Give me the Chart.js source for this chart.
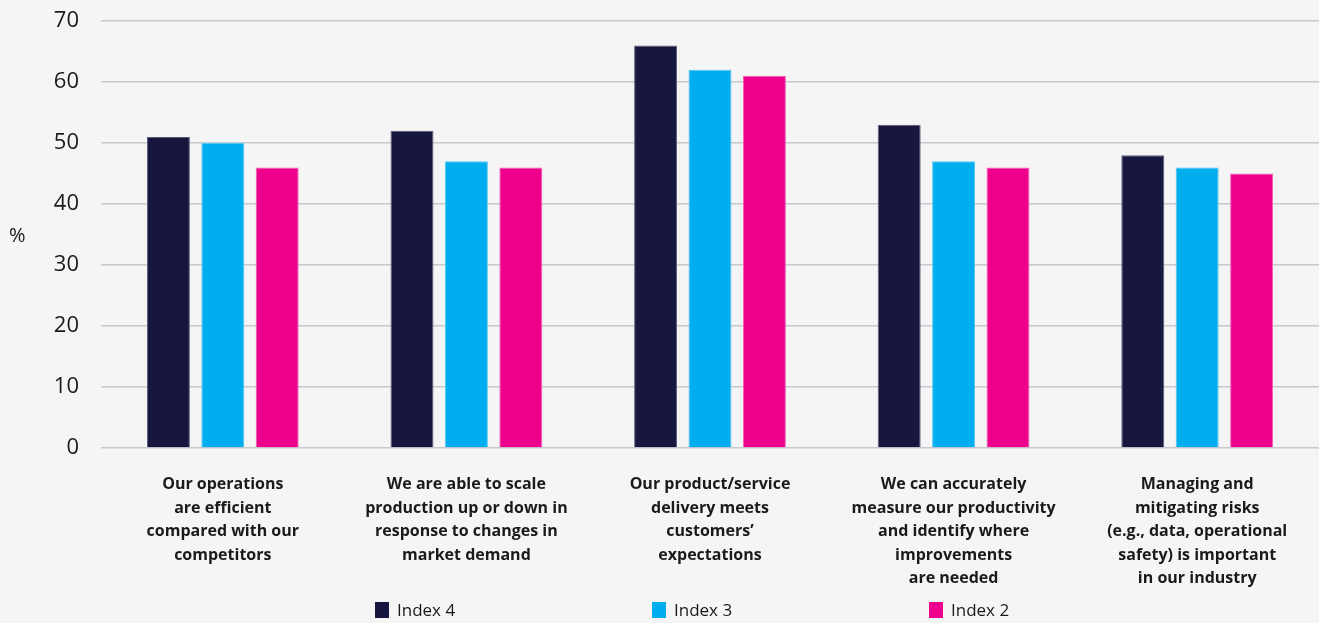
<!DOCTYPE html>
<html>
<head>
<meta charset="utf-8">
<script src="https://cdn.jsdelivr.net/npm/chart.js@4"></script>
<style>
  html, body { margin: 0; padding: 0; background: #f5f5f5; }
  #wrap { width: 1319px; height: 623px; position: relative; }
</style>
</head>
<body>
<div id="wrap"><canvas id="productivityChart"></canvas></div>
<script>
const categories = [
  ["Our operations", "are efficient", "compared with our", "competitors"],
  ["We are able to scale", "production up or down in", "response to changes in", "market demand"],
  ["Our product/service", "delivery meets", "customers\u2019", "expectations"],
  ["We can accurately", "measure our productivity", "and identify where", "improvements", "are needed"],
  ["Managing and", "mitigating risks", "(e.g., data, operational", "safety) is important", "in our industry"]
];
const seriesNames = ["Index 4", "Index 3", "Index 2"];
const index4 = [51, 52, 66, 53, 48];
const index3 = [50, 47, 62, 47, 46];
const index2 = [46, 46, 61, 46, 45];
const yTicks = [0, 10, 20, 30, 40, 50, 60, 70];

const fills = ["#16163f", "#00aeef", "#ec008c"];
const edges = ["#5c5c78", "#52c6f2", "#f25cb2"];
const values = [index4, index3, index2];

const textColor = "#1a1a1a";

// "%" sits beside the axis, unrotated
const percentLabel = {
  id: "percentLabel",
  afterDraw(chart) {
    const { ctx, chartArea } = chart;
    ctx.save();
    ctx.font = "20px 'Open Sans'";
    ctx.fillStyle = textColor;
    ctx.textAlign = "left";
    ctx.textBaseline = "middle";
    ctx.fillText("%", 9, (chartArea.top + chartArea.bottom) / 2 + 2);
    ctx.restore();
  }
};

// wide-spaced legend row along the bottom edge
const spreadLegend = {
  id: "spreadLegend",
  afterDraw(chart) {
    const { ctx } = chart;
    const startX = 375, stride = 277, y = 610;
    ctx.save();
    ctx.font = "17px 'Open Sans'";
    ctx.textBaseline = "middle";
    ctx.textAlign = "left";
    chart.data.datasets.forEach((ds, i) => {
      const x = startX + i * stride;
      ctx.fillStyle = ds.backgroundColor;
      ctx.fillRect(x, y - 8, 14, 16);
      ctx.fillStyle = textColor;
      ctx.fillText(ds.label, x + 22, y + 1);
    });
    ctx.restore();
  }
};

const ctx = document.getElementById("productivityChart").getContext("2d");
new Chart(ctx, {
  type: "bar",
  data: {
    labels: categories,
    datasets: seriesNames.map((name, i) => ({
      label: name,
      data: values[i],
      backgroundColor: fills[i],
      borderColor: edges[i],
      borderWidth: 1,
      categoryPercentage: 0.67,
      barPercentage: 0.79
    }))
  },
  options: {
    responsive: true,
    maintainAspectRatio: false,
    animation: false,
    layout: { padding: { top: 21, right: 0, left: 0, bottom: 0 } },
    plugins: {
      tooltip: { enabled: false },
      legend: { display: false }
    },
    scales: {
      x: {
        grid: { display: false, drawTicks: false },
        border: { display: false },
        afterFit(scale) { scale.height = 175; },
        ticks: {
          padding: 25,
          maxRotation: 0,
          autoSkip: false,
          color: textColor,
          font: { family: "'Open Sans'", size: 16, weight: "bold", lineHeight: 1.47 }
        }
      },
      y: {
        min: 0,
        max: 70,
        afterFit(scale) {
          scale.width = 101;
          scale.paddingTop = 0;
        },
        afterBuildTicks(scale) { scale.ticks = yTicks.map(v => ({ value: v })); },
        grid: { color: "#c8c8d0", lineWidth: 1.5, drawTicks: false },
        border: { display: false },
        ticks: {
          padding: 22,
          color: textColor,
          font: { family: "'Open Sans'", size: 22 }
        }
      }
    }
  },
  plugins: [percentLabel, spreadLegend]
});
</script>
</body>
</html>
